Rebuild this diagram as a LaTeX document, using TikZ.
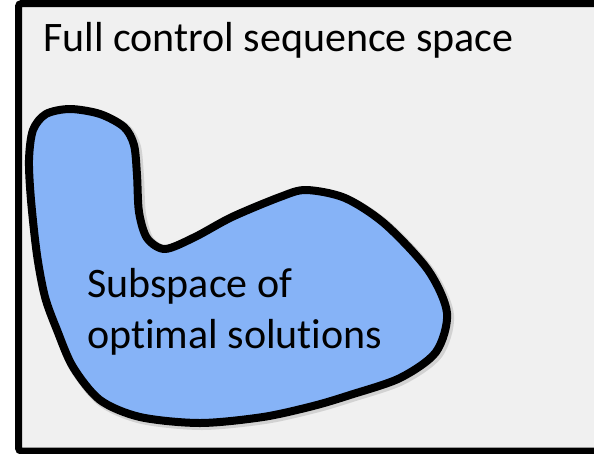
\documentclass[tikz,border=0pt]{standalone}
\usepackage{fontspec}
\setmainfont{Carlito}[Ligatures=NoCommon]
\definecolor{bggray}{HTML}{F0F0F0}
\definecolor{blobblue}{HTML}{86B3F7}
\begin{document}
\begin{tikzpicture}[x=1pt,y=-1pt,
  frame/.style={draw=black,line width=7pt,fill=bggray,rounded corners=3pt},
  blob/.style={draw=black,line width=8pt,fill=blobblue,line join=round},
  label/.style={font=\fontsize{42}{51}\selectfont,inner sep=0pt,text=black}]
\useasboundingbox (0,0) rectangle (594,453);
\clip (0,0) rectangle (594,453);
\fill[white] (0,0) rectangle (594,453);
\draw[frame] (18.5,3.5) rectangle (620,451);
\def\blobpath{plot[smooth cycle,tension=0.5] coordinates {
 (70,109) (100,114) (124,127) (134,145) (137,175) (139,212) (147,238) (165,249)
 (195,237) (232,217) (280,197) (306,190) (345,198) (385,224) (428,270) (447,313)
 (436,352) (400,378) (350,395) (313,406) (263,417) (200,423) (140,417) (100,400)
 (73,367) (57,330) (45,297) (37,255) (31,200) (29,160) (33,130) (46,114)}}
\draw[line width=10pt,black,opacity=0.12,shift={(2,2)}] \blobpath;
\draw[blob] \blobpath;
\node[label,anchor=base west] (title) at (43,51) {Full control sequence space};
\node[label,anchor=base west,align=left] (sub) at (87,348) {Subspace of\\optimal solutions};
\end{tikzpicture}
\end{document}
